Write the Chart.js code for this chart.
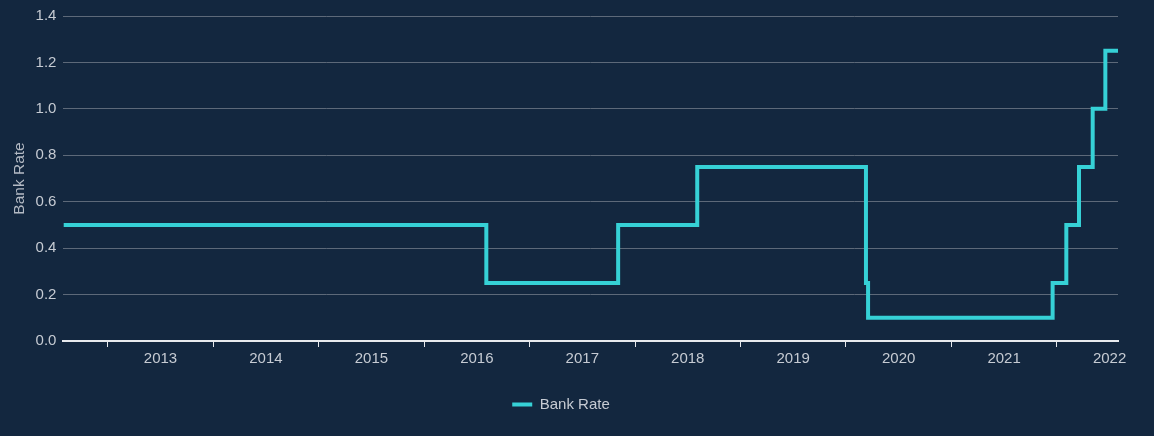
<!DOCTYPE html>
<html lang="en">
<head>
    <meta charset="UTF-8">
    <title>Bank Rate</title>
    <script src="https://cdn.jsdelivr.net/npm/chart.js@4.4.1/dist/chart.umd.min.js"></script>
    <style>
        html, body {
            margin: 0;
            padding: 0;
            background: #13273f;
        }
        .wrap {
            width: 1154px;
            height: 436px;
        }
    </style>
</head>
<body>
    <div class="wrap"><canvas id="rateChart"></canvas></div>

    <script>
        // dates (decimal years) where Bank Rate changed, and the new rate
        const changeDates = [2012.58, 2016.59, 2017.84, 2018.59, 2020.19, 2020.21, 2021.96, 2022.09, 2022.21, 2022.34, 2022.46, 2022.58];
        const rates       = [0.5,     0.25,    0.5,     0.75,    0.25,    0.1,     0.25,    0.5,     0.75,    1.0,     1.25,    1.25];
        const years       = [2013, 2014, 2015, 2016, 2017, 2018, 2019, 2020, 2021, 2022];
        const yTicks      = [0, 0.2, 0.4, 0.6, 0.8, 1.0, 1.2, 1.4];

        const textColor = '#c6cbd3';
        const fontFamily = "'Liberation Sans', Arial, sans-serif";

        const points = changeDates.map((d, i) => ({ x: d, y: rates[i] }));

        // tick marks sit on 1 January, the year label sits in the middle of the year
        const xTicks = [];
        years.forEach(y => {
            xTicks.push(y);
            xTicks.push(y + 0.5);
        });
        const onYearStart = v => Math.abs(v - Math.round(v)) < 0.01;

        new Chart(document.getElementById('rateChart'), {
            type: 'line',
            data: {
                datasets: [{
                    label: 'Bank Rate',
                    data: points,
                    stepped: true,
                    borderColor: '#36d1d6',
                    backgroundColor: '#36d1d6',
                    borderWidth: 4,
                    pointRadius: 0,
                    fill: false
                }]
            },
            options: {
                responsive: true,
                maintainAspectRatio: false,
                animation: false,
                layout: {
                    padding: { left: 4, right: 36, top: 8, bottom: 14 }
                },
                scales: {
                    x: {
                        type: 'linear',
                        min: changeDates[0],
                        max: changeDates[changeDates.length - 1],
                        border: { display: true, color: '#e8eaee', width: 2 },
                        afterBuildTicks: axis => {
                            axis.ticks = xTicks.filter(v => v <= axis.max).map(v => ({ value: v }));
                        },
                        grid: {
                            drawOnChartArea: false,
                            drawTicks: true,
                            tickLength: 6,
                            tickWidth: 1,
                            tickColor: ctx => (ctx.tick && onYearStart(ctx.tick.value)) ? '#e8eaee' : 'rgba(0,0,0,0)'
                        },
                        ticks: {
                            autoSkip: false,
                            maxRotation: 0,
                            padding: 3,
                            color: textColor,
                            font: { family: fontFamily, size: 15 },
                            callback: v => onYearStart(v) ? '' : String(Math.floor(v))
                        }
                    },
                    y: {
                        min: yTicks[0],
                        max: yTicks[yTicks.length - 1],
                        border: { display: false },
                        grid: {
                            color: '#5d6979',
                            lineWidth: 1,
                            drawTicks: false
                        },
                        afterBuildTicks: axis => {
                            axis.ticks = yTicks.map(v => ({ value: v }));
                        },
                        ticks: {
                            padding: 7,
                            color: textColor,
                            font: { family: fontFamily, size: 15 },
                            callback: v => Number(v).toFixed(1)
                        },
                        title: {
                            display: true,
                            text: 'Bank Rate',
                            color: '#b4bac4',
                            padding: { top: 6, bottom: 0 },
                            font: { family: fontFamily, size: 15.5 }
                        }
                    }
                },
                plugins: {
                    legend: {
                        position: 'bottom',
                        labels: {
                            boxWidth: 20,
                            boxHeight: 4,
                            color: textColor,
                            padding: 26,
                            font: { family: fontFamily, size: 15 },
                            // flat bar swatch, no thick outline
                            generateLabels: chart => Chart.defaults.plugins.legend.labels.generateLabels(chart)
                                .map(l => Object.assign(l, { lineWidth: 0 }))
                        }
                    },
                    tooltip: { enabled: false }
                }
            }
        });
    </script>
</body>
</html>
